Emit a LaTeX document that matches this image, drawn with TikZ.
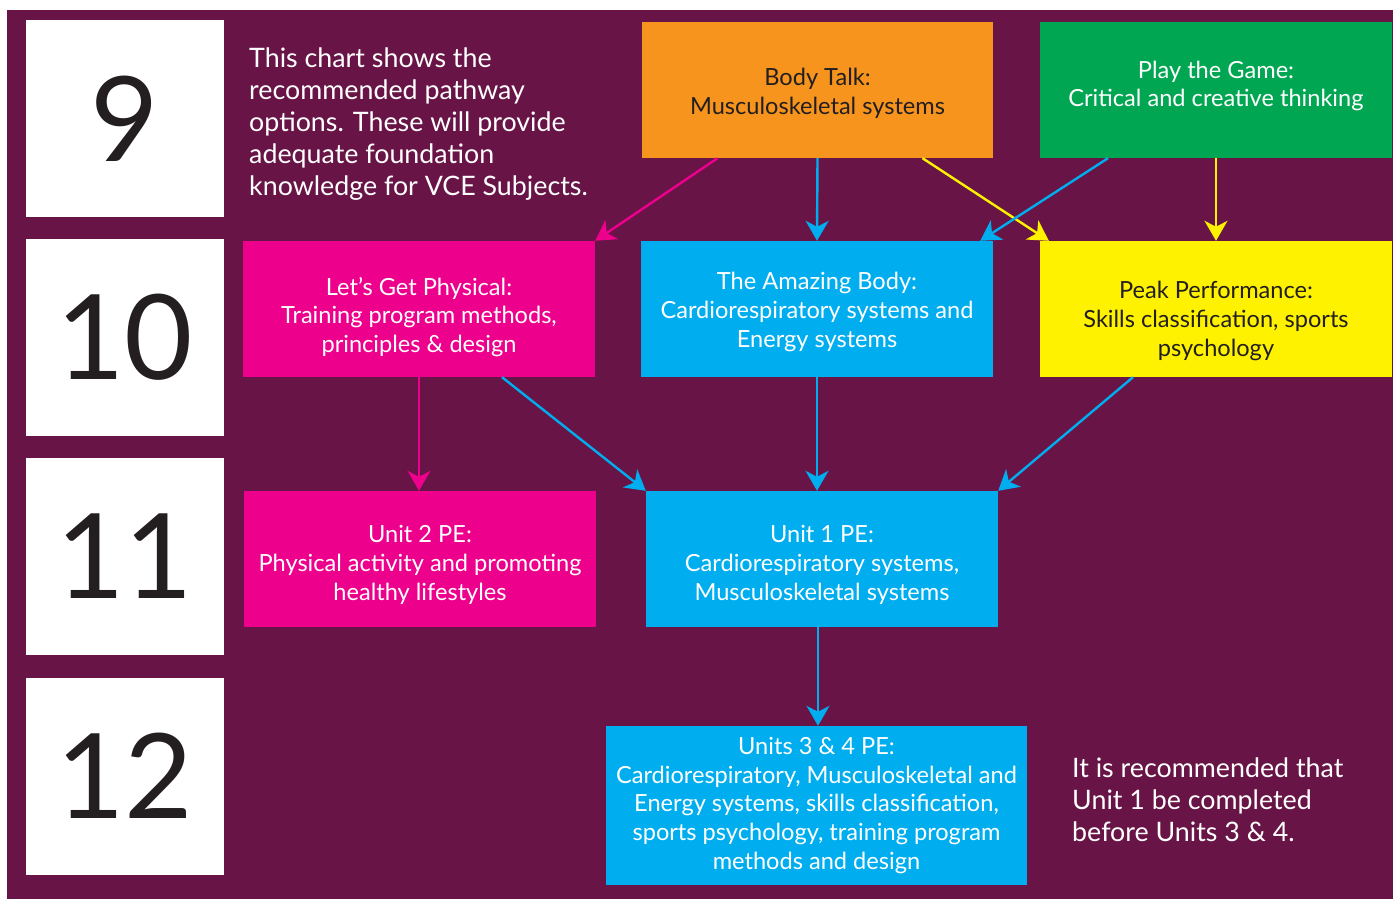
\documentclass[tikz,border=0pt]{standalone}
\usepackage{fontspec}
\setmainfont{Lato}
\usetikzlibrary{arrows.meta}
\definecolor{bgpurple}{HTML}{691446}
\definecolor{corange}{HTML}{F7941D}
\definecolor{cgreen}{HTML}{00A651}
\definecolor{cmagenta}{HTML}{EC008C}
\definecolor{ccyan}{HTML}{00AEEF}
\definecolor{cyellow}{HTML}{FFF200}
\definecolor{cdark}{HTML}{231F20}
\tikzset{
  box/.style={inner sep=0pt, minimum width=352pt, minimum height=136pt},
  boxtext/.style={inner sep=0pt, align=center, text=white,
    font=\fontsize{23.6}{28.8}\selectfont},
  darktext/.style={text=cdark},
  yearbox/.style={fill=white, minimum width=198pt, minimum height=197pt, inner sep=0pt,
    text=cdark, font=\fontsize{118}{120}\selectfont},
  note/.style={align=left, text=white, inner sep=0pt, anchor=north west,
    font=\fontsize{26.8}{32}\selectfont},
  conn/.style={line width=2.4pt, -{Stealth[length=20pt,width=23pt,inset=6pt]}},
}
\begin{document}
\begin{tikzpicture}[x=1pt,y=-1pt]
\useasboundingbox (0,0) rectangle (1393,899);
\fill[white] (0,0) rectangle (1393,899);
\fill[bgpurple] (7,10) rectangle (1393,899);

% year boxes
\node[yearbox] (y9)  at (125,118.5) {9};
\node[yearbox] (y10) at (125,337.5) {10};
\node[yearbox] (y11) at (125,556.5) {11};
\node[yearbox] (y12) at (125,776) {12};

% notes
\node[note] (intro) at (249,48) {This chart shows the\\recommended pathway\\options. These will provide\\adequate foundation\\knowledge for VCE Subjects.};
\node[note] (rec) at (1072,758) {It is recommended that\\Unit 1 be completed\\before Units 3 \& 4.};

% course boxes
\node[box, fill=corange, minimum width=351pt] (bt) at (817.5,90) {};
\node[box, fill=cgreen] (pg) at (1216,90) {};
\node[box, fill=cmagenta] (lgp) at (419,309) {};
\node[box, fill=ccyan] (ab) at (817,309) {};
\node[box, fill=cyellow] (pp) at (1216,309) {};
\node[box, fill=cmagenta] (u2) at (420,559) {};
\node[box, fill=ccyan] (u1) at (822,559) {};
\node[box, fill=ccyan, minimum width=421pt, minimum height=159pt] (u34) at (816.5,805.5) {};

% box texts
\node[boxtext, darktext, yshift=-3pt] (btt) at (bt) {Body Talk:\\Musculoskeletal systems};
\node[boxtext, yshift=4pt] (pgt) at (pg) {Play the Game:\\Critical and creative thinking};
\node[boxtext, yshift=-8pt] (lgpt) at (lgp) {Let’s Get Physical:\\Training program methods,\\principles \& design};
\node[boxtext, yshift=-3pt] (abt) at (ab) {The Amazing Body:\\Cardiorespiratory systems and\\Energy systems};
\node[boxtext, darktext, yshift=-12pt] (ppt) at (pp) {Peak Performance:\\Skills classification, sports\\psychology};
\node[boxtext, yshift=-6pt] (u2t) at (u2) {Unit 2 PE:\\Physical activity and promoting\\healthy lifestyles};
\node[boxtext, yshift=-6pt] (u1t) at (u1) {Unit 1 PE:\\Cardiorespiratory systems,\\Musculoskeletal systems};
\node[boxtext] (u34t) at (u34) {Units 3 \& 4 PE:\\Cardiorespiratory, Musculoskeletal and\\Energy systems, skills classification,\\sports psychology, training program\\methods and design};

% connectors
\draw[conn, cmagenta] ([xshift=-100pt]bt.south) -- (lgp.north east);
\draw[conn, ccyan] (bt.south) -- (ab.north);
\draw[conn, cyellow] ([xshift=105pt]bt.south) -- ([xshift=9pt]pp.north west);
\draw[conn, ccyan] ([xshift=-108pt]pg.south) -- ([xshift=-13pt]ab.north east);
\draw[conn, cyellow] (pg.south) -- (pp.north);
\draw[conn, cmagenta] (lgp.south) -- (lgp.south |- u2.north);
\draw[conn, ccyan] ([xshift=83pt]lgp.south) -- (u1.north west);
\draw[conn, ccyan] (ab.south) -- (ab.south |- u1.north);
\draw[conn, ccyan] ([xshift=-83pt]pp.south) -- (u1.north east);
\draw[conn, ccyan] ([xshift=-4pt]u1.south) -- ([xshift=-4pt]u1.south |- u34.north);
\end{tikzpicture}
\end{document}
